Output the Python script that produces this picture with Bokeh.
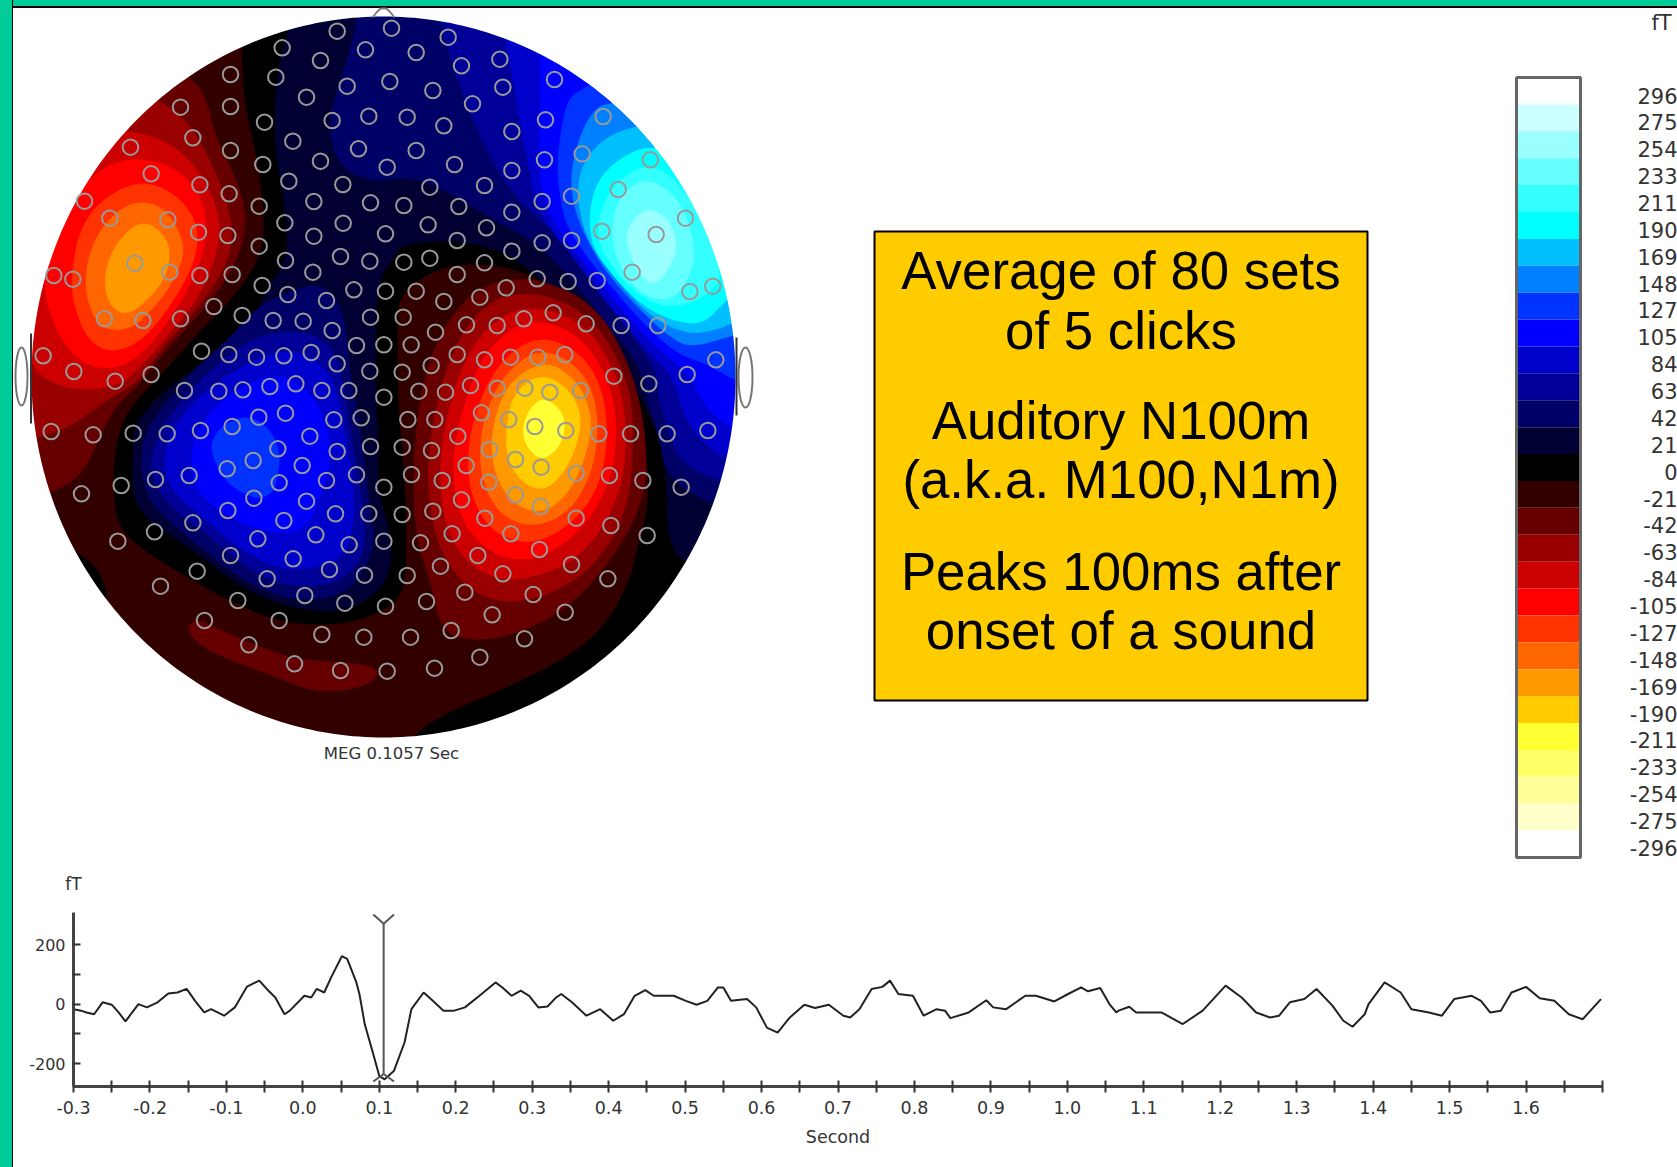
import numpy as np
from bokeh.core.properties import value
from bokeh.embed import file_html
from bokeh.layouts import column
from bokeh.models import FixedTicker, Range1d
from bokeh.plotting import figure
from bokeh.resources import INLINE

FONT = "Liberation Sans"
WIDE = "DejaVu Sans"
GREEN = "#00CC99"

# ---- data: colour scale -------------------------------------------------
scale_labels = ["296","275","254","233","211","190","169","148","127","105","84","63","42","21","0",
                "-21","-42","-63","-84","-105","-127","-148","-169","-190","-211","-233","-254","-275","-296"]
scale_colors = ["#FFFFFF","#CCFFFF","#99FFFF","#66FFFF","#33FFFF","#00FFFF","#00BFFF","#0080FF","#0033FF",
                "#0000FF","#0000CC","#000099","#000066","#000033","#000000","#330000","#660000","#990000",
                "#CC0000","#FF0000","#FF3300","#FF6600","#FF9900","#FFCC00","#FFFF33","#FFFF66","#FFFF99",
                "#FFFFCC","#FFFFFF"]

# ---- data: averaged time course ----------------------------------------
t_sec = [-0.300,-0.290,-0.283,-0.273,-0.262,-0.250,-0.241,-0.232,-0.225,-0.215,-0.204,-0.190,-0.176,-0.164,-0.152,
 -0.141,-0.129,-0.120,-0.103,-0.089,-0.073,-0.057,-0.045,-0.036,-0.024,-0.017,0.002,0.011,0.018,0.028,0.037,0.051,
 0.058,0.070,0.074,0.081,0.091,0.100,0.107,0.119,0.133,0.142,0.158,0.170,0.184,0.198,0.212,0.231,0.252,0.261,0.273,
 0.285,0.296,0.308,0.320,0.331,0.338,0.352,0.371,0.389,0.406,0.420,0.434,0.448,0.459,0.485,0.501,0.515,0.529,0.543,
 0.550,0.560,0.581,0.593,0.607,0.621,0.637,0.656,0.670,0.688,0.707,0.716,0.728,0.744,0.758,0.768,0.779,0.798,0.812,
 0.829,0.840,0.847,0.871,0.894,0.903,0.920,0.945,0.959,0.983,1.001,1.018,1.027,1.043,1.055,1.064,1.067,1.081,1.090,
 1.123,1.151,1.177,1.207,1.228,1.247,1.265,1.277,1.291,1.310,1.326,1.347,1.361,1.373,1.389,1.394,1.415,1.436,1.450,
 1.473,1.490,1.506,1.529,1.541,1.553,1.567,1.581,1.600,1.618,1.637,1.656,1.674,1.698]
v_ft = [-17,-22,-28,-34,6,-2,-28,-58,-34,0,-11,6,36,39,51,11,-28,-17,-39,-11,59,79,45,22,-34,-22,28,22,51,39,90,161,
 152,73,34,-68,-158,-242,-253,-225,-129,-17,39,11,-22,-22,-11,28,73,56,28,45,28,-11,-8,22,
 34,6,-39,-17,-56,-34,28,47,28,28,11,-2,11,56,56,11,17,-11,-79,-96,-45,-2,-13,-2,-39,-45,-17,51,58,79,34,28,-39,-17,
 -22,-47,-28,13,-11,-17,28,28,9,34,56,43,54,0,-28,-22,-9,-28,-28,-67,-22,62,22,-28,-45,-39,6,17,51,-6,-56,-76,-34,0,
 73,39,-17,-28,-39,17,28,11,-28,-22,39,58,20,11,-34,-51,17]
cursor_t = 0.1057

# ---- data: sensor positions, read in four crops of the head map ---------
sens_tl = [(1010,92),(1173,83),(845,142),(1095,148),(960,180),(690,222),(826,230),(1168,243),(1040,257),(690,318),
 (540,320),(918,290),(792,365),(995,360),(1105,347),(577,412),(390,440),(690,450),(877,422),(1074,445),(787,492),
 (960,482),(1160,500),(452,520),(598,553),(865,542),(1027,552),(686,580),(252,602),(940,603),(1110,607),(776,617),
 (328,653),(502,658),(853,667),(1028,668),(594,695),(682,705),(1155,700),(940,707),(776,737),(403,788),(508,815),
 (160,825),(217,836),(598,825),(695,822),(855,780),(1020,768),(1108,782),(937,815),(785,855),(862,882),(1060,868),
 (1155,872),(978,900),(640,918),(725,945),(312,955),(427,960),(540,955),(818,960),(908,962),(995,990),(1110,950),
 (603,1052),(685,1062),(768,1070),(850,1066),(932,1056),(1068,1035),(1150,1033),(128,1066),(220,1113),(344,1142),
 (452,1122),(1010,1090),(1108,1112),(552,1170),(655,1172),(727,1168),(808,1158),(886,1150),(964,1170),(1045,1170),
 (1150,1190)]
sens_bl = [(855,128),(775,140),(1000,148),(1082,142),(695,168),(152,183),(278,193),(398,188),(500,190),(600,180),
 (928,197),(1110,228),(1010,243),(832,235),(758,270),(905,285),(680,295),(1068,313),(978,330),(566,315),(465,327),
 (836,337),(1150,350),(362,345),(243,370),(760,383),(918,392),(682,420),(1005,430),(1105,430),(850,450),(577,457),
 (462,484),(352,512),(772,505),(946,493),(1046,523),(1150,512),(690,555),(878,565),(987,597),(1092,614),(590,602),
 (800,625),(480,647),(913,675),(712,690),(1033,698),(1155,707),(612,750),(836,750),(964,792),(1090,800),(745,823),
 (882,880),(1020,900),(1160,902)]
sens_tr = [(143,110),(47,156),(183,196),(298,176),(97,270),(462,237),(307,260),(216,310),(20,350),(130,376),(435,358),
 (608,348),(334,393),(47,450),(162,492),(545,460),(432,478),(750,478),(334,510),(88,560),(252,555),(10,615),(653,567),
 (175,618),(513,587),(425,603),(334,635),(855,653),(83,673),(258,682),(604,692),(767,702),(170,720),(425,727),(513,720),
 (334,752),(88,773),(10,785),(252,787),(695,815),(170,822),(410,835),(503,843),(590,840),(868,873),(937,857),(317,862),
 (47,872),(238,890),(130,903),(8,950),(458,937),(772,975),(662,975),(557,970),(370,955),(290,975),(198,973),(105,995),
 (32,1033),(946,1078),(170,1062),(252,1078),(330,1070),(412,1070),(493,1062),(92,1095),(860,1122),(640,1127),(745,1150),
 (5,1115),(210,1155),(290,1163),(373,1163),(448,1175),(540,1170),(55,1172),(135,1175)]
sens_br = [(22,147),(103,147),(243,127),(325,147),(403,168),(496,180),(595,190),(690,190),(800,190),(922,180),(172,197),
 (5,230),(93,240),(267,237),(345,267),(422,290),(197,285),(33,312),(125,330),(527,308),(627,315),(727,330),(842,350),
 (265,335),(345,373),(183,388),(420,408),(97,422),(5,432),(253,443),(527,443),(631,465),(740,495),(155,490),(331,490),
 (60,517),(232,555),(417,537),(20,615),(120,587),(513,582),(307,610),(622,625),(193,665),(398,672),(78,693),(275,733),
 (494,725),(152,780),(30,800),(372,805),(238,860),(102,893)]

# crop offsets: every outline below is read in one of these crops at 3x
def tl(p): return [(x/3, y/3) for x, y in p]
def bl(p): return [(x/3, 370+y/3) for x, y in p]
def tr(p): return [(400+x/3, y/3) for x, y in p]
def br(p): return [(400+x/3, 370+y/3) for x, y in p]

# ---- data: contour outlines of the field map (colour, outline) ----------
contours = [
 ("#330000", [(240,9),(241,50),(243,100),(257,160),(265,227),(257,263),(230,300),(200,330),(167,367),(123,413),(113,457),
   (113,503),(120,530),(147,553),(187,577),(233,603),(283,623),(333,625),(367,618),(400,600),(407,567),(404,470),(398,410),
   (397,320),(400,293),(433,270),(467,263),(510,267),(547,283),(580,313),(613,360),(627,393),(640,430),(648,470),(647,510),
   (633,560),(630,577),(607,623),(567,657),(500,690),(450,710),(410,735),(395,770),(20,770),(20,9)]),
 ("#000000", [(72,547),(80,555),(97,567),(107,593),(103,610),(50,600)]),
 ("#660000", tl([(575,230),(620,300),(640,400),(700,520),(740,640),(720,760),(650,880),(560,980),(470,1080),(400,1170),
   (350,1210),(300,1300),(250,1420),(150,1480),(60,1500),(60,1000),(200,400),(450,180)])),
 ("#990000", tl([(475,300),(560,360),(620,460),(680,600),(700,720),(660,830),(560,960),(470,1060),(420,1140),(300,1210),
   (210,1280),(100,1315),(60,1320),(60,800),(200,500),(400,260)])),
 ("#CC0000", tl([(360,385),(500,420),(590,500),(650,620),(660,720),(610,870),(500,1010),(400,1120),(340,1160),(220,1170),
   (120,1130),(95,1090),(60,1000),(60,700),(250,430)])),
 ("#FF0000", tl([(400,470),(530,500),(610,600),(620,720),(570,860),(450,1040),(350,1110),(240,1090),(170,1000),(130,880),
   (140,800),(190,640),(240,560),(310,500)])),
 ("#FF3300", tl([(420,540),(520,575),(590,660),(590,760),(540,870),(440,1010),(340,1060),(260,1020),(215,900),(215,800),
   (240,680),(310,590)])),
 ("#FF6600", tl([(440,600),(510,640),(555,740),(530,820),(480,900),(390,990),(300,985),(258,900),(255,800),(290,700),(360,620)])),
 ("#FF9900", tl([(430,660),(490,700),(512,760),(490,840),(440,900),(380,945),(330,920),(310,850),(325,770),(370,700)])),
 ("#660000", bl([(555,770),(590,745),(640,770),(800,840),(900,870),(1100,880),(1140,910),(1080,955),(940,965),(830,920),(720,880),(600,830)])),
 ("#000033", tl([(880,40),(830,200),(820,400),(835,520),(860,650),(860,780),(790,880),(765,960),(640,1060),(560,1120),(470,1190)])
   + bl([(430,130),(400,170),(395,280),(400,400),(470,470),(580,540),(680,620),(800,690),(950,725),(1060,715),(1150,650),
         (1175,560),(1165,480),(1130,350),(1135,230),(1125,90)])
   + tl([(1125,850),(1180,770)])
   + tr([(0,735),(100,720),(200,725),(300,750),(380,800),(470,880),(570,990),(660,1090),(720,1190)])
   + br([(780,200),(800,350),(800,490),(845,590),(1100,600),(1140,300)])
   + [(780,9),(300,9)]),
 ("#000066", tl([(1075,40),(1040,180),(990,330),(990,430),(1030,510),(1120,545)])
   + tr([(0,530),(70,540),(150,580),(250,640),(340,690),(420,740),(500,820),(580,920),(660,1020),(720,1100)])
   + br([(740,90),(775,200),(800,320),(940,410),(1100,420)]) + [(780,100),(780,9),(350,9)]),
 ("#000099", tr([(115,60),(150,170),(190,290),(235,400),(280,490),(345,590),(420,660),(490,720),(570,820),(650,930),(720,1040),(770,1120)])
   + br([(775,90),(805,180),(835,275),(970,340),(1100,340)]) + [(780,100),(780,9),(450,9)]),
 ("#0000CC", tr([(310,90),(335,220),(360,370),(385,490),(400,590),(450,690),(520,770),(590,870),(670,970),(750,1060),(820,1130)])
   + br([(860,170),(985,280),(1100,280)]) + [(780,100),(780,9),(500,9)]),
 ("#0000FF", tr([(420,180),(420,300),(415,420),(420,560),(460,670),(530,760),(610,860),(700,970),(790,1060),(860,1110)])
   + br([(920,120),(1005,180),(1100,180)]) + [(780,100),(780,9),(540,9)]),
 ("#0033FF", tr([(540,265),(500,300),(480,400),(470,500),(480,600),(500,680),(560,770),(650,880),(740,980),(830,1060),(920,1090),
   (1010,1145),(1100,1150),(1100,200),(800,150)])),
 ("#0080FF", tr([(620,300),(570,340),(530,430),(510,530),(520,620),(560,720),(620,820),(720,930),(820,1020),(880,1040),(1010,1000),
   (1100,990),(1100,300)])),
 ("#00BFFF", tr([(700,375),(600,420),(540,500),(530,600),(560,720),(640,830),(740,940),(830,990),(900,1000),(1000,970),(1100,900),(1100,300)])),
 ("#00FFFF", tr([(760,430),(660,470),(590,540),(565,640),(575,740),(640,830),(730,920),(830,965),(910,970),(975,900),(1100,800),(1000,500)])),
 ("#33FFFF", tr([(750,490),(660,530),(600,620),(590,720),(640,810),(710,880),(790,920),(870,910),(950,860),(960,800),(900,650),(830,540)])),
 ("#66FFFF", tr([(745,530),(670,570),(635,650),(640,760),(690,850),(760,900),(830,890),(880,800),(880,720),(840,600)])),
 ("#99FFFF", tr([(735,620),(680,680),(680,740),(720,830),(770,855),(820,780),(830,720),(800,650)])),
 ("#000066", bl([(680,-90),(780,-200),(880,-240),(940,-260),(1000,-230),(1035,-150),(1045,-10),(1070,120),(1095,300),(1110,430),(1125,530),
   (1060,650),(960,690),(830,680),(700,610),(600,530),(500,450),(440,380),(420,290),(430,190),(500,90),(590,-10)])),
 ("#000099", bl([(760,-100),(880,-120),(960,-100),(1010,-40),(1030,40),(1050,190),(1075,320),(1090,430),(1095,540),(1040,620),(950,650),
   (830,640),(720,580),(620,490),(520,420),(460,340),(450,260),(490,160),(560,70),(650,-20)])),
 ("#0000CC", bl([(830,-60),(920,-50),(990,10),(1020,110),(1040,230),(1060,340),(1060,470),(1030,560),(950,590),(850,600),(720,540),(620,450),
   (520,370),(485,290),(510,180),(590,80),(700,0)])),
 ("#0000FF", bl([(820,10),(900,40),(960,110),(1000,250),(950,400),(930,450),(880,490),(780,480),(690,440),(600,380),(570,300),(580,200),(640,110),(720,50)])),
 ("#0033FF", bl([(740,135),(800,165),(840,240),(830,330),(810,375),(760,385),(680,340),(640,270),(630,215),(670,160)])),
 ("#660000", br([(390,-285),(590,-200),(710,30),(745,290),(710,440),(610,600),(480,730),(320,800),(190,810),(120,770),(95,650),(40,480),(40,200),(90,-70),(220,-250)])),
 ("#990000", br([(400,-240),(570,-170),(690,30),(700,270),(670,450),(570,600),(430,680),(290,700),(170,630),(90,470),(80,220),(150,-60),(260,-210)])),
 ("#CC0000", br([(400,-195),(560,-140),(665,40),(680,260),(640,420),(540,560),(410,620),(280,630),(170,550),(120,410),(120,210),(190,-40),(290,-160)])),
 ("#FF0000", br([(410,-155),(550,-100),(640,60),(650,250),(600,400),(510,510),(400,570),(290,560),(200,480),(160,370),(160,210),(230,-20),(320,-120)])),
 ("#FF3300", br([(410,-110),(550,-50),(615,80),(620,250),(580,380),(500,470),(400,520),(300,500),(235,430),(200,320),(210,170),(280,-10)])),
 ("#FF6600", br([(420,-70),(540,-10),(590,100),(590,230),(560,340),(500,430),(400,470),(310,440),(260,370),(235,270),(250,140),(310,10)])),
 ("#FF9900", br([(440,-30),(530,30),(570,120),(570,200),(540,300),(490,385),(420,430),(340,400),(290,330),(270,230),(290,110),(340,20)])),
 ("#FFCC00", br([(440,15),(510,60),(545,140),(525,240),(480,320),(430,360),(370,340),(325,280),(315,200),(330,90),(380,30)])),
 ("#FFFF33", br([(430,80),(485,120),(495,180),(470,240),(420,270),(375,225),(365,170),(390,110)])),
]

box_lines = ["Average of 80 sets", "of 5 clicks", "Auditory N100m", "(a.k.a. M100,N1m)", "Peaks 100ms after", "onset of a sound"]
box_line_y = [269.6, 329.5, 420.4, 479, 571, 630]


def smooth(points, rounds=3):
    """Round a hand-read outline (Chaikin corner cutting on a closed ring)."""
    a = np.array(points, dtype=float)
    for _ in range(rounds):
        b = np.roll(a, -1, axis=0)
        a = np.column_stack([0.75*a + 0.25*b, 0.25*a + 0.75*b]).reshape(-1, 2)
    return np.clip(a[:, 0], 20, 785), np.clip(a[:, 1], 9, 759)


# ---- top figure: head map, text box, colour scale (page pixels) ----------
top = figure(width=1677, height=900, x_range=Range1d(0, 1677), y_range=Range1d(900, 0),
             output_backend="svg", toolbar_location=None, min_border=0, frame_align=False,
             background_fill_color=None, border_fill_color=None, outline_line_color=None)
top.axis.visible = False
top.grid.visible = False

top.quad(left=20, right=785, top=9, bottom=759, fill_color="#000000", line_color=None)
xs, ys, cols = [], [], []
for col, outline in contours:
    x, y = smooth(outline)
    xs.append(x); ys.append(y); cols.append(col)
top.patches(xs, ys, fill_color=cols, line_color=cols, line_width=0.5)

# white outside the head ellipse
ang = np.linspace(0, 2*np.pi, 361)
hole_x = list(383 + 352*np.cos(ang))
hole_y = list(376.5 + 360.5*np.sin(ang))
top.multi_polygons(xs=[[[[14, 790, 790, 14], hole_x]]], ys=[[[[8, 8, 762, 762], hole_y]]],
                   fill_color="#FFFFFF", line_color=None)

sx, sy = [], []
for conv, pts in ((tl, sens_tl), (bl, sens_bl), (tr, sens_tr), (br, sens_br)):
    for a, b in conv(pts):
        sx.append(a); sy.append(b)
top.scatter(sx, sy, marker="circle", size=15.5, fill_color=None, line_color="#999999", line_width=2)

# nose, ears
top.line([372, 376, 380, 386, 390, 394], [17, 12, 8, 8, 12, 17], line_color="#808080", line_width=2)
top.ellipse([21, 745], [376, 377], width=[12, 14], height=[58, 60], fill_color="#FFFFFF",
            line_color="#777777", line_width=2)
top.segment([30.5, 736], [333, 337], [30.5, 736], [423, 415], line_color="#333333", line_width=2)
top.text([391], [753], text=["MEG 0.1057 Sec"], text_font=value(WIDE), text_font_size="16.5px",
         text_color="#333333", text_align="center", text_baseline="middle")

# text box
top.quad(left=874, right=1367, top=231, bottom=700, fill_color="#FFCC00", line_color="#000000", line_width=2)
top.text([1120.5]*len(box_lines), box_line_y, text=box_lines, text_font=value(FONT), text_font_size="52.8px",
         text_color="#000000", text_align="center", text_baseline="middle")

# colour scale
n = len(scale_colors)
band = (857 - 77) / n
tops = [77 + band*i for i in range(n)]
top.quad(left=1516, right=1580, top=tops, bottom=[v + band for v in tops], fill_color=scale_colors, line_color=None)
top.quad(left=1516, right=1580, top=77, bottom=857, fill_color=None, line_color="#666666", line_width=3)
label_y = [95 + 26.87*i for i in range(n)]
top.text([1677]*n, label_y, text=scale_labels, text_font=value(WIDE), text_font_size="21px",
         text_color="#333333", text_align="right", text_baseline="middle")
top.text([1661], [22], text=["fT"], text_font=value(WIDE), text_font_size="21px", text_color="#333333",
         text_align="center", text_baseline="middle")
top.text([73], [883], text=["fT"], text_font=value(WIDE), text_font_size="17px", text_color="#333333",
         text_align="center", text_baseline="middle")

# ---- bottom figure: time course with real axes ---------------------------
ts = figure(width=1677, height=267, x_range=Range1d(-0.3, 1.7), y_range=Range1d(-277, 308),
            output_backend="svg", toolbar_location=None, frame_align=False,
            min_border_left=73, min_border_right=75, min_border_top=12, min_border_bottom=81,
            background_fill_color=None, border_fill_color=None, outline_line_color=None)
ts.grid.visible = False

ticks_x = [round(-0.3 + 0.05*i, 2) for i in range(41)]
ts.xaxis.ticker = FixedTicker(ticks=ticks_x)
ts.xaxis.major_label_overrides = {v: (f"{v:.1f}" if i % 2 == 0 and v < 1.65 else "") for i, v in enumerate(ticks_x)}
ts.xaxis.major_tick_in = 6
ts.xaxis.major_tick_out = 6
ts.xaxis.minor_tick_line_color = None
ts.xaxis.axis_line_width = 3
ts.xaxis.axis_line_color = "#444444"
ts.xaxis.major_tick_line_color = "#333333"
ts.xaxis.major_tick_line_width = 2
ts.xaxis.major_label_text_font = WIDE
ts.xaxis.major_label_text_font_size = "17.5px"
ts.xaxis.major_label_text_color = "#333333"
ts.xaxis.major_label_standoff = 8
ts.xaxis.axis_label = "Second"
ts.xaxis.axis_label_text_font = WIDE
ts.xaxis.axis_label_text_font_size = "17.5px"
ts.xaxis.axis_label_text_font_style = "normal"
ts.xaxis.axis_label_text_color = "#333333"
ts.xaxis.axis_label_standoff = 10

ticks_y = [-200, -100, 0, 100, 200]
ts.yaxis.ticker = FixedTicker(ticks=ticks_y)
ts.yaxis.major_label_overrides = {-200: "-200", -100: "", 0: "0", 100: "", 200: "200"}
ts.yaxis.major_tick_in = 7
ts.yaxis.major_tick_out = 1
ts.yaxis.minor_tick_line_color = None
ts.yaxis.axis_line_width = 3
ts.yaxis.axis_line_color = "#444444"
ts.yaxis.major_tick_line_color = "#333333"
ts.yaxis.major_tick_line_width = 2
ts.yaxis.major_label_text_font = WIDE
ts.yaxis.major_label_text_font_size = "16px"
ts.yaxis.major_label_text_color = "#333333"
ts.yaxis.major_label_standoff = 7

ts.line(t_sec, v_ft, line_color="#222222", line_width=2)
# time cursor with its Y and inverted Y ends
ts.segment([cursor_t]*3 + [cursor_t-0.0135, cursor_t+0.0135],
           [-235, -235, -235, 301, 301],
           [cursor_t, cursor_t-0.0135, cursor_t+0.0135, cursor_t, cursor_t],
           [270, -260, -260, 270, 270], line_color="#555555", line_width=2)

page = column(top, ts, spacing=0, width=1677, height=1167,
              styles={"background": f"linear-gradient(90deg,{GREEN} 0 12px,#000 12px 13.5px,transparent 13.5px),"
                                    f"linear-gradient({GREEN} 0 6px,#000 6px 8px,#fff 8px)"})

open("out.html", "w").write(file_html(page, INLINE))
